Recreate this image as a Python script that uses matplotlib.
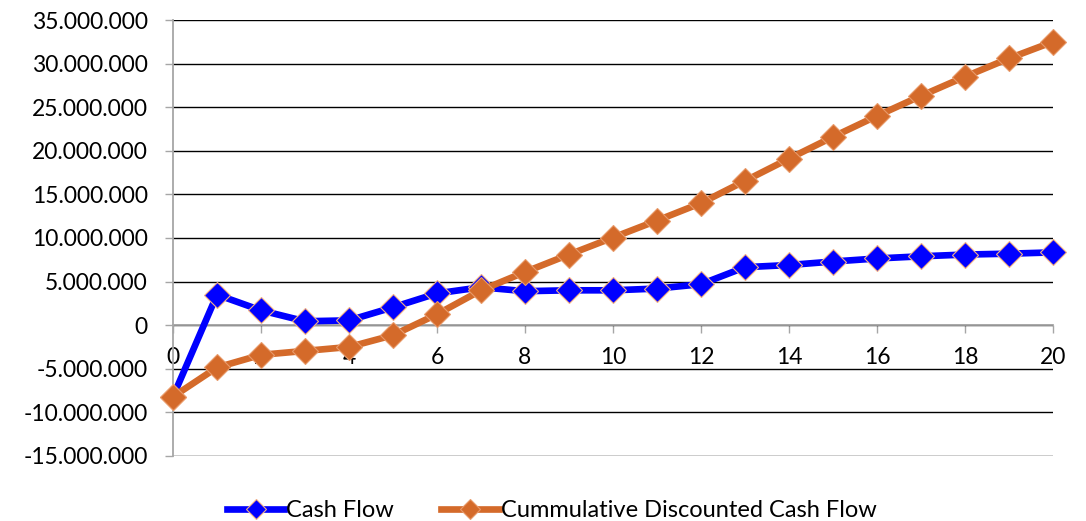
import matplotlib.pyplot as plt
from matplotlib.ticker import FuncFormatter, MultipleLocator

plt.rcParams['font.family'] = ['Lato', 'DejaVu Sans']

years = list(range(0, 21))
cash_flow = [-8.2e6, 3.5e6, 1.7e6, 0.45e6, 0.55e6, 2.05e6, 3.65e6, 4.35e6, 3.9e6, 4.0e6, 4.0e6,
             4.2e6, 4.7e6, 6.65e6, 6.9e6, 7.3e6, 7.65e6, 7.9e6, 8.1e6, 8.2e6, 8.35e6]
cum_dcf = [-8.2e6, -4.85e6, -3.4e6, -2.95e6, -2.5e6, -1.15e6, 1.25e6, 4.0e6, 6.1e6, 8.1e6, 10.05e6,
           12.0e6, 14.0e6, 16.55e6, 19.1e6, 21.6e6, 24.0e6, 26.3e6, 28.5e6, 30.6e6, 32.5e6]
y_ticks = list(range(-15000000, 35000001, 5000000))

blue = '#0000FF'
orange = '#D46A2A'

fig = plt.figure(figsize=(10.86, 5.21), dpi=100)
ax = fig.add_axes([0.1593, 0.1248, 0.9696 - 0.1593, 0.9616 - 0.1248])

ax.plot(years, cash_flow, '-', color=blue, lw=4.8, marker='D', ms=13,
        mfc=blue, mec='#F4B183', mew=0.8, label='Cash Flow', zorder=3, clip_on=False)
ax.plot(years, cum_dcf, '-', color=orange, lw=4.8, marker='D', ms=13,
        mfc=orange, mec='#E89A6A', mew=0.8, label='Cummulative Discounted Cash Flow', zorder=4, clip_on=False)

ax.set_xlim(0, 20)
ax.set_ylim(-15000000, 35000000)
ax.set_yticks(y_ticks)
ax.yaxis.set_major_formatter(FuncFormatter(lambda v, p: f"{v:,.0f}".replace(',', '.')))
ax.xaxis.set_major_locator(MultipleLocator(2))

ax.grid(axis='y', color='black', lw=1.0, zorder=0)
ax.set_axisbelow(True)
for s in ['top', 'right']:
    ax.spines[s].set_visible(False)
ax.spines['bottom'].set_position(('data', 0))
ax.spines['bottom'].set_color('#A6A6A6')
ax.spines['bottom'].set_linewidth(1.3)
ax.spines['bottom'].set_zorder(2.5)
ax.spines['left'].set_color('#A6A6A6')
ax.spines['left'].set_linewidth(1.3)

ax.tick_params(axis='y', length=6, width=1, color='#A6A6A6', pad=12, labelsize=16.5)
ax.tick_params(axis='x', length=6, width=1, color='#A6A6A6', pad=10, labelsize=16.5)

fig.legend(loc='center', bbox_to_anchor=(0.508, 0.02), ncol=2, frameon=False, fontsize=17,
           handlelength=2.45, handletextpad=0.08, columnspacing=2.0, markerscale=0.75)

plt.savefig('out.png', dpi=100)
